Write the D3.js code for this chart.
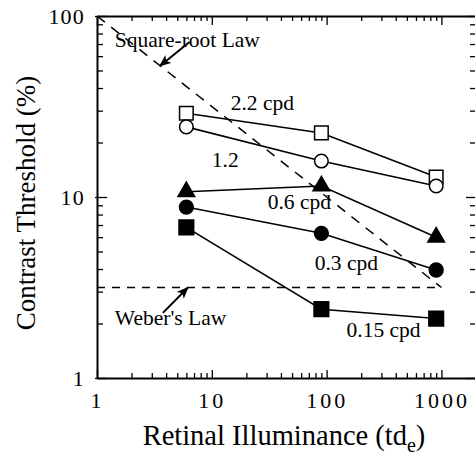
<!DOCTYPE html>
<html>
<head>
<meta charset="utf-8">
<script src="https://cdn.jsdelivr.net/npm/d3@7"></script>
<style>
  body { margin: 0; background: #fff; }
  text { font-family: "Liberation Serif", serif; fill: #000; }
</style>
</head>
<body>
<div id="chart"></div>
<script>
// values (log-log plot)
var illuminance = [6, 90, 900];            // td_e
var thr22  = [29.0, 22.6, 12.9];           // 2.2 cpd, open squares
var thr12  = [24.4, 15.8, 11.5];           // 1.2 cpd, open circles
var thr06  = [10.7, 11.5, 6.0];            // 0.6 cpd, filled triangles
var thr03  = [8.8, 6.3, 3.95];             // 0.3 cpd, filled circles
var thr015 = [6.8, 2.4, 2.13];             // 0.15 cpd, filled squares
var seriesNames = ["2.2 cpd", "1.2", "0.6 cpd", "0.3 cpd", "0.15 cpd"];
var seriesLabelX = [14.6, 10, 30.7, 78.7, 149];
var seriesLabelY = [30.2, 14.6, 8.6, 3.95, 1.68];

var xMajor = [1, 10, 100, 1000];
var yMajor = [1, 10, 100];

// reference laws
var weberLevel = Math.sqrt(10);
var sqrtLawX = [1, 1000];
var sqrtLawY = [100, Math.sqrt(10)];

// set the dimensions and margins of the graph
var margin = {top: 16, right: -1, bottom: 78, left: 97},
    width = 475 - margin.left - margin.right,
    height = 456 - margin.top - margin.bottom;

var svg = d3.select("#chart")
  .append("svg")
    .attr("width", 475)
    .attr("height", 456)
  .append("g")
    .attr("transform", "translate(" + margin.left + "," + margin.top + ")");

var x = d3.scaleLog().domain([1, 2000]).range([0, width]);
var y = d3.scaleLog().domain([1, 100]).range([height, 0]);

function minors(majors) {
  var out = [];
  majors.slice(0, -1).forEach(function(m) {
    for (var k = 1; k < 10; k++) out.push(m * k);
  });
  out.push(majors[majors.length - 1]);
  return out;
}
var xTicks = minors(xMajor);
var yTicks = minors(yMajor);
function isMajor(d) { return Math.abs(Math.log10(d) - Math.round(Math.log10(d))) < 1e-6; }

// arrow head
svg.append("defs").append("marker")
    .attr("id", "arrow")
    .attr("viewBox", "0 0 12 10")
    .attr("refX", 11).attr("refY", 5)
    .attr("markerWidth", 12).attr("markerHeight", 10)
    .attr("markerUnits", "userSpaceOnUse")
    .attr("orient", "auto")
  .append("path")
    .attr("d", "M0,0L12,5L0,10L3,5z")
    .attr("fill", "#000");

// axes: ticks point inward on all four sides
var fmt = function(d) { return isMajor(d) ? d3.format("d")(d) : ""; };

var gLeft = svg.append("g")
    .call(d3.axisLeft(y).tickValues(yTicks).tickFormat(fmt).tickSize(-6).tickSizeOuter(0).tickPadding(12));
gLeft.selectAll(".tick line").attr("x1", d => isMajor(d) ? -2 : 0).attr("x2", d => isMajor(d) ? 10 : 6);

var gBottom = svg.append("g")
    .attr("transform", "translate(0," + height + ")")
    .call(d3.axisBottom(x).tickValues(xTicks).tickFormat(fmt).tickSize(-5).tickSizeOuter(0).tickPadding(14));
gBottom.selectAll(".tick line").attr("y2", d => isMajor(d) ? -8 : -5);

var gTop = svg.append("g")
    .call(d3.axisTop(x).tickValues(xTicks).tickFormat("").tickSize(-5).tickSizeOuter(0));
gTop.selectAll(".tick line").attr("y2", d => isMajor(d) ? 9 : 5);

var gRight = svg.append("g")
    .attr("transform", "translate(" + width + ",0)")
    .call(d3.axisRight(y).tickValues(yTicks).tickFormat("").tickSize(-6).tickSizeOuter(0));
gRight.selectAll(".tick line").attr("x2", d => isMajor(d) ? -10 : -6);

svg.selectAll(".domain").attr("stroke", "#000").attr("stroke-width", 2);
svg.selectAll(".tick line").attr("stroke", "#000").attr("stroke-width", 1.3);

gLeft.selectAll("text")
    .style("font-family", "Liberation Serif")
    .style("font-size", "22px")
    .style("letter-spacing", "1.2px")
    .attr("dy", "0.36em");
gBottom.selectAll("text")
    .style("font-family", "Liberation Serif")
    .style("font-size", "22px")
    .style("letter-spacing", "3px");

// axis titles
svg.append("text")
    .attr("transform", "rotate(-90)")
    .attr("x", -(203 - margin.top))
    .attr("y", 35 - margin.left)
    .attr("text-anchor", "middle")
    .style("font-size", "27px")
    .text("Contrast Threshold (%)");

var xt = svg.append("text")
    .attr("x", 284 - margin.left)
    .attr("y", 445 - margin.top)
    .attr("text-anchor", "middle")
    .style("font-size", "28.5px");
xt.append("tspan").text("Retinal Illuminance (td");
xt.append("tspan").attr("dy", 7).style("font-size", "20px").text("e");
xt.append("tspan").attr("dy", -7).text(")");

// Weber's law and square-root law (dashed)
svg.append("line")
    .attr("x1", x(1)).attr("x2", x(1000))
    .attr("y1", y(weberLevel)).attr("y2", y(weberLevel))
    .attr("stroke", "#000").attr("stroke-width", 1.5)
    .attr("stroke-dasharray", "8,7");

svg.append("line")
    .attr("x1", x(sqrtLawX[0])).attr("x2", x(sqrtLawX[1]))
    .attr("y1", y(sqrtLawY[0])).attr("y2", y(sqrtLawY[1]))
    .attr("stroke", "#000").attr("stroke-width", 1.5)
    .attr("stroke-dasharray", "10,8");

// annotations with arrows
svg.append("text")
    .attr("x", x(1.43)).attr("y", y(67.4))
    .style("font-size", "21.5px")
    .text("Square-root Law");
svg.append("line")
    .attr("x1", x(6.4)).attr("y1", y(71.8))
    .attr("x2", x(3.53)).attr("y2", y(53))
    .attr("stroke", "#000").attr("stroke-width", 2)
    .attr("marker-end", "url(#arrow)");

svg.append("text")
    .attr("x", x(1.43)).attr("y", y(1.96))
    .style("font-size", "21.5px")
    .text("Weber's Law");
svg.append("line")
    .attr("x1", x(3.75)).attr("y1", y(2.29))
    .attr("x2", x(6.2)).attr("y2", y(weberLevel))
    .attr("stroke", "#000").attr("stroke-width", 2)
    .attr("marker-end", "url(#arrow)");

// data series
var allSeries = [thr22, thr12, thr06, thr03, thr015];
var symbolTypes = [d3.symbolSquare, d3.symbolCircle, d3.symbolTriangle, d3.symbolCircle, d3.symbolSquare];
var symbolSizes = [185, 145, 120, 150, 215];
var filled = [false, false, true, true, true];

var line = d3.line()
    .x(function(d, i) { return x(illuminance[i]); })
    .y(function(d) { return y(d); });

allSeries.forEach(function(vals, s) {
  svg.append("path")
      .datum(vals)
      .attr("d", line)
      .attr("fill", "none")
      .attr("stroke", "#000")
      .attr("stroke-width", 1.6);

  svg.selectAll(".pt" + s)
    .data(vals)
    .enter().append("path")
      .attr("class", "pt" + s)
      .attr("transform", function(d, i) { return "translate(" + x(illuminance[i]) + "," + y(d) + ")"; })
      .attr("d", d3.symbol().type(symbolTypes[s]).size(symbolSizes[s]))
      .attr("fill", filled[s] ? "#000" : "#fff")
      .attr("stroke", "#000")
      .attr("stroke-width", 1.5);

  svg.append("text")
      .attr("x", x(seriesLabelX[s]))
      .attr("y", y(seriesLabelY[s]))
      .style("font-size", "21.5px")
      .text(seriesNames[s]);
});
</script>
</body>
</html>
